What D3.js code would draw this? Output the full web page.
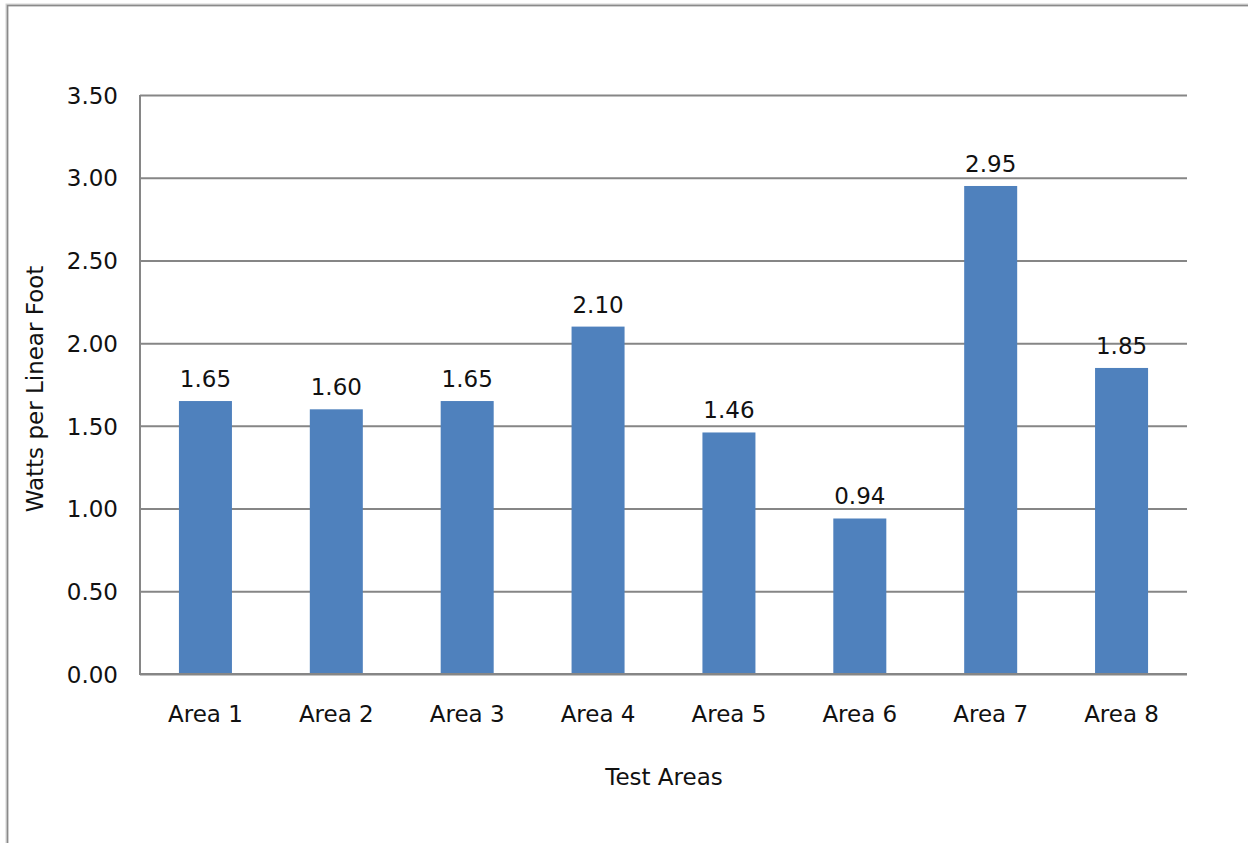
<!DOCTYPE html>
<html>
<head>
<meta charset="utf-8">
<script src="https://cdn.jsdelivr.net/npm/d3@7/dist/d3.min.js"></script>
<style>
  html, body { margin: 0; padding: 0; background: #ffffff; }
  svg { display: block; }
  text { font-family: "DejaVu Sans", Verdana, sans-serif; fill: #111111; }
</style>
</head>
<body>
<svg id="chart" width="1248" height="843"></svg>
<script>
const categories = ["Area 1", "Area 2", "Area 3", "Area 4", "Area 5", "Area 6", "Area 7", "Area 8"];
const values = [1.65, 1.60, 1.65, 2.10, 1.46, 0.94, 2.95, 1.85];
const valueLabels = ["1.65", "1.60", "1.65", "2.10", "1.46", "0.94", "2.95", "1.85"];
const yTicks = [0, 0.5, 1.0, 1.5, 2.0, 2.5, 3.0, 3.5];
const yTitle = "Watts per Linear Foot";
const xTitle = "Test Areas";

const svg = d3.select("#chart");
const W = 1248, H = 843;
const plot = { left: 140, right: 1187, top: 95, bottom: 674 };
const fontSize = 23;

// outer chart border (open on right and bottom, as clipped in reference)
svg.append("path")
  .attr("d", `M7,${H + 5} L7,5 L${W + 5},5`)
  .attr("fill", "none")
  .attr("stroke", "#d4d4d4")
  .attr("stroke-width", 3);
svg.append("path")
  .attr("d", `M7.5,${H + 5} L7.5,5.5 L${W + 5},5.5`)
  .attr("fill", "none")
  .attr("stroke", "#8a8a8a")
  .attr("stroke-width", 1.5);

const x = d3.scaleBand()
  .domain(categories)
  .range([plot.left, plot.right])
  .paddingInner(0.595)
  .paddingOuter(0.2975);

const y = d3.scaleLinear()
  .domain([0, 3.5])
  .range([plot.bottom, plot.top]);

// gridlines
const yAxis = d3.axisLeft(y)
  .tickValues(yTicks)
  .tickSize(-(plot.right - plot.left))
  .tickPadding(22)
  .tickFormat(d3.format(".2f"));

const gy = svg.append("g")
  .attr("transform", `translate(${plot.left},0)`)
  .call(yAxis);
gy.select(".domain").remove();
gy.selectAll(".tick line")
  .attr("stroke", "#868686")
  .attr("stroke-width", 2);
gy.selectAll(".tick text")
  .attr("font-size", fontSize)
  .attr("font-family", "DejaVu Sans, Verdana, sans-serif")
  .attr("fill", "#111")
  .attr("dy", "0.36em");

// bars
svg.append("g").selectAll("rect")
  .data(values)
  .join("rect")
  .attr("x", (d, i) => x(categories[i]))
  .attr("width", x.bandwidth())
  .attr("y", d => y(d))
  .attr("height", d => y(0) - y(d))
  .attr("fill", "#4F81BD");

// y axis line and x axis line
svg.append("line")
  .attr("x1", plot.left).attr("x2", plot.left)
  .attr("y1", plot.top).attr("y2", plot.bottom + 1)
  .attr("stroke", "#868686").attr("stroke-width", 2);
svg.append("line")
  .attr("x1", plot.left - 1).attr("x2", plot.right)
  .attr("y1", plot.bottom).attr("y2", plot.bottom)
  .attr("stroke", "#868686").attr("stroke-width", 2);

// value labels
svg.append("g").selectAll("text")
  .data(values)
  .join("text")
  .attr("x", (d, i) => x(categories[i]) + x.bandwidth() / 2)
  .attr("y", d => y(d) - 14)
  .attr("text-anchor", "middle")
  .attr("font-size", fontSize)
  .text((d, i) => valueLabels[i]);

// x category labels
const xAxis = d3.axisBottom(x).tickSize(0).tickPadding(0);
const gx = svg.append("g")
  .attr("transform", `translate(0,${plot.bottom})`)
  .call(xAxis);
gx.select(".domain").remove();
gx.selectAll(".tick text")
  .attr("font-size", fontSize)
  .attr("font-family", "DejaVu Sans, Verdana, sans-serif")
  .attr("fill", "#111")
  .attr("dy", null)
  .attr("y", 47.5);

// axis titles
svg.append("text")
  .attr("x", (plot.left + plot.right) / 2 + 0.5)
  .attr("y", 784.5)
  .attr("text-anchor", "middle")
  .attr("font-size", fontSize)
  .text(xTitle);

svg.append("text")
  .attr("transform", `translate(43,389) rotate(-90)`)
  .attr("text-anchor", "middle")
  .attr("font-size", fontSize)
  .text(yTitle);
</script>
</body>
</html>
